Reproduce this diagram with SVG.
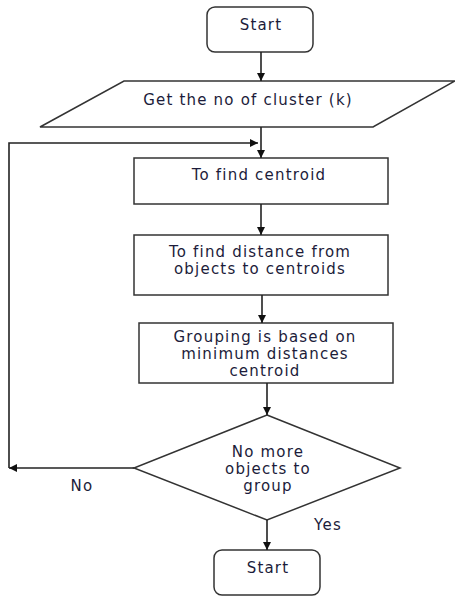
<svg xmlns="http://www.w3.org/2000/svg" width="455" height="596" viewBox="0 0 455 596">
<style>
.s{fill:#fff;stroke:#333;stroke-width:1.5}
.t{font-family:"DejaVu Sans",Verdana,sans-serif;font-size:15px;letter-spacing:1.2px;fill:#1c1c3a;text-anchor:middle}
.c{fill:none;stroke:#222;stroke-width:1.6}
</style>
<defs>
<marker id="a" viewBox="0 0 10 10" refX="10" refY="5" markerWidth="8" markerHeight="8" markerUnits="userSpaceOnUse" orient="auto">
<path d="M0,0L10,5L0,10Z" fill="#111"/>
</marker>
</defs>
<rect width="455" height="596" fill="#fff"/>
<g id="start">
<rect class="s" x="207" y="7" width="106" height="45" rx="8"/>
<text class="t" x="261" y="30">Start</text>
</g>
<g id="input">
<polygon class="s" points="124,81 455,81 373,127 40,127"/>
<text class="t" x="248" y="105">Get the no of cluster (k)</text>
</g>
<g id="centroid">
<rect class="s" x="134" y="158" width="254" height="46"/>
<text class="t" x="259" y="180">To find centroid</text>
</g>
<g id="distance">
<rect class="s" x="134" y="235" width="254" height="60"/>
<text class="t" x="260" y="257">To find distance from</text>
<text class="t" x="260" y="274">objects to centroids</text>
</g>
<g id="grouping">
<rect class="s" x="139" y="323" width="254" height="60"/>
<text class="t" x="265" y="342">Grouping is based on</text>
<text class="t" x="265" y="359">minimum distances</text>
<text class="t" x="265" y="376">centroid</text>
</g>
<g id="decision">
<polygon class="s" points="267,415 400,468 267,520 134,468"/>
<text class="t" x="268" y="457">No more</text>
<text class="t" x="268" y="474">objects to</text>
<text class="t" x="268" y="491">group</text>
</g>
<g id="end">
<rect class="s" x="214" y="550" width="106" height="45" rx="8"/>
<text class="t" x="268" y="573">Start</text>
</g>
<g id="connectors">
<line class="c" x1="261" y1="52" x2="261" y2="81" marker-end="url(#a)"/>
<line class="c" x1="261" y1="127" x2="261" y2="158" marker-end="url(#a)"/>
<line class="c" x1="261" y1="204" x2="261" y2="235" marker-end="url(#a)"/>
<line class="c" x1="262" y1="295" x2="262" y2="323" marker-end="url(#a)"/>
<line class="c" x1="267" y1="383" x2="267" y2="415" marker-end="url(#a)"/>
<line class="c" x1="267" y1="520" x2="267" y2="550" marker-end="url(#a)"/>
<polyline class="c" points="134,468 9,468" marker-end="url(#a)"/>
<polyline class="c" points="9,468 9,143 258,143" marker-end="url(#a)"/>
<text class="t" x="82" y="491">No</text>
<text class="t" x="328" y="530">Yes</text>
</g>
</svg>
